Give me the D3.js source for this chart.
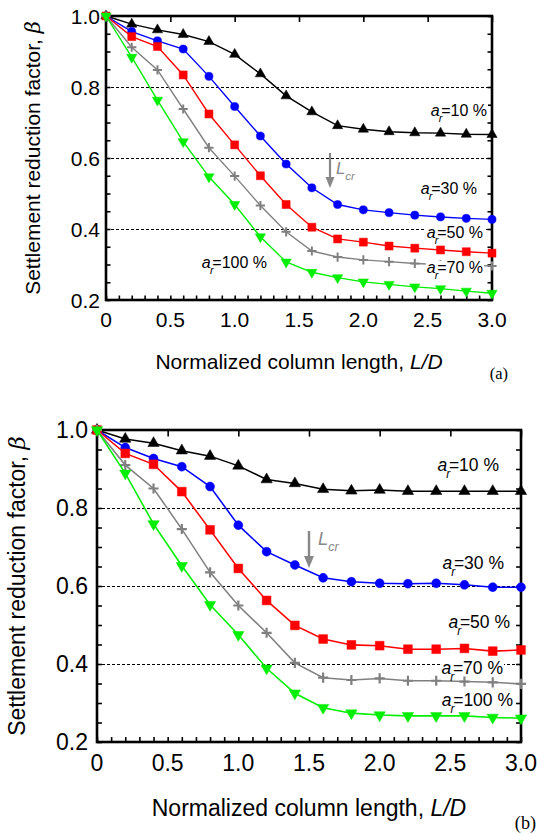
<!DOCTYPE html>
<html>
<head>
<meta charset="utf-8">
<script src="https://cdn.jsdelivr.net/npm/d3@7/dist/d3.min.js"></script>
<style>
  body { margin: 0; background: #fff; }
  svg { display: block; }
</style>
</head>
<body>
<svg id="fig" width="537" height="834"></svg>
<script>
// Normalized column length L/D (x values shared by both panels)
const lengthRatio = [0, 0.2, 0.4, 0.6, 0.8, 1.0, 1.2, 1.4, 1.6, 1.8, 2.0, 2.2, 2.4, 2.6, 2.8, 3.0];

// Area replacement ratios a_r (%)
const replacementRatios = ["10", "30", "50", "70", "100"];

// Panel (a): settlement reduction factor beta
const betaA10  = [1.0, 0.977, 0.961, 0.948, 0.928, 0.892, 0.837, 0.775, 0.730, 0.691, 0.681, 0.674, 0.671, 0.670, 0.667, 0.666];
const betaA30  = [1.0, 0.956, 0.930, 0.907, 0.830, 0.745, 0.662, 0.583, 0.516, 0.469, 0.454, 0.446, 0.439, 0.434, 0.430, 0.427];
const betaA50  = [1.0, 0.942, 0.914, 0.834, 0.724, 0.637, 0.550, 0.469, 0.405, 0.372, 0.363, 0.352, 0.346, 0.341, 0.336, 0.332];
const betaA70  = [1.0, 0.912, 0.848, 0.738, 0.629, 0.549, 0.466, 0.392, 0.338, 0.321, 0.313, 0.308, 0.303, 0.300, 0.297, 0.296];
const betaA100 = [1.0, 0.884, 0.763, 0.646, 0.547, 0.469, 0.378, 0.307, 0.278, 0.263, 0.251, 0.244, 0.237, 0.232, 0.225, 0.219];

// Panel (b): settlement reduction factor beta
const betaB10  = [1.0, 0.977, 0.966, 0.947, 0.933, 0.908, 0.873, 0.863, 0.848, 0.844, 0.846, 0.843, 0.843, 0.843, 0.843, 0.843];
const betaB30  = [1.0, 0.955, 0.927, 0.906, 0.855, 0.756, 0.688, 0.654, 0.621, 0.611, 0.607, 0.606, 0.607, 0.603, 0.597, 0.597];
const betaB50  = [1.0, 0.940, 0.912, 0.842, 0.744, 0.645, 0.563, 0.499, 0.464, 0.449, 0.447, 0.438, 0.438, 0.440, 0.433, 0.436];
const betaB70  = [1.0, 0.910, 0.850, 0.746, 0.635, 0.550, 0.480, 0.403, 0.365, 0.359, 0.363, 0.357, 0.357, 0.355, 0.353, 0.349];
const betaB100 = [1.0, 0.889, 0.759, 0.652, 0.552, 0.475, 0.389, 0.325, 0.288, 0.274, 0.269, 0.267, 0.267, 0.267, 0.263, 0.261];

// Axis ticks
const xTicks = [0, 0.5, 1.0, 1.5, 2.0, 2.5, 3.0];
const yTicks = [0.2, 0.4, 0.6, 0.8, 1.0];
const gridLevels = [0.4, 0.6, 0.8];

// Series styling
const seriesColors = ["#000000", "#0000ff", "#ff0000", "#808080", "#00ee00"];
const seriesMarkers = ["triUp", "circle", "square", "plus", "triDown"];

const FONT = "'Liberation Sans', Arial, Helvetica, sans-serif";

const panels = [
  {
    tag: "(a)", left: 106, top: 16, right: 492, bottom: 300, font: 21, labelFont: 16, k: 1,
    series: [betaA10, betaA30, betaA50, betaA70, betaA100],
    labels: [[487, 116], [477, 194], [483, 238], [483, 273], [267, 268]],
    arrow: { x: 330, y1: 153, y2: 188 }, lcr: [336, 174],
    tagPos: [508, 379], xTitleY: 369, yTitleX: 40, xTickY: 327, yTickX: 100
  },
  {
    tag: "(b)", left: 97, top: 430, right: 521, bottom: 742, font: 23, labelFont: 17.5, k: 1.1,
    series: [betaB10, betaB30, betaB50, betaB70, betaB100],
    labels: [[499, 471], [504, 569], [510, 628], [503, 674], [513, 706]],
    arrow: { x: 309, y1: 531, y2: 568 }, lcr: [318, 545],
    tagPos: [536, 829], xTitleY: 816, yTitleX: 25, xTickY: 771, yTickX: 88
  }
];

const svg = d3.select("#fig");

function markerPath(type, k) {
  if (type === "triUp" || type === "triDown") return d3.symbol(d3.symbolTriangle, 46 * k * k)();
  if (type === "circle") return d3.symbol(d3.symbolCircle, 52 * k * k)();
  if (type === "square") return d3.symbol(d3.symbolSquare, 64 * k * k)();
  const h = 4.6 * k;
  return `M${-h},0H${h}M0,${-h}V${h}`;
}

function drawPanel(p) {
  const g = svg.append("g");
  const x = d3.scaleLinear().domain([0, 3]).range([p.left, p.right]);
  const y = d3.scaleLinear().domain([0.2, 1.0]).range([p.bottom, p.top]);
  const w = p.right - p.left, h = p.bottom - p.top;

  // dotted reference lines
  g.selectAll(".grid").data(gridLevels).join("line")
    .attr("x1", p.left).attr("x2", p.right)
    .attr("y1", d => Math.round(y(d)) + 0.5).attr("y2", d => Math.round(y(d)) + 0.5)
    .attr("stroke", "#000").attr("stroke-width", 1)
    .attr("shape-rendering", "crispEdges")
    .attr("stroke-dasharray", "3,2");

  // inward ticks on all four sides
  const tickLen = 6 * p.k, minorLen = 4.5 * p.k;
  g.append("g").attr("transform", `translate(0,${p.bottom})`)
    .call(d3.axisTop(x).tickValues(d3.range(0, 3.0001, 0.1)).tickSize(minorLen).tickFormat(""));
  g.append("g").attr("transform", `translate(0,${p.top})`)
    .call(d3.axisBottom(x).tickValues(xTicks).tickSize(tickLen).tickFormat(""));
  const yMinor = d3.range(0.2, 1.0001, 0.05);
  g.append("g").attr("transform", `translate(${p.left},0)`)
    .call(d3.axisRight(y).tickValues(yMinor).tickSize(minorLen).tickFormat(""));
  g.append("g").attr("transform", `translate(${p.right},0)`)
    .call(d3.axisLeft(y).tickValues(yMinor).tickSize(minorLen).tickFormat(""));
  g.selectAll(".domain").remove();
  g.selectAll(".tick line").attr("stroke", "#000").attr("stroke-width", 1.6);

  // frame
  g.append("rect").attr("x", p.left).attr("y", p.top).attr("width", w).attr("height", h)
    .attr("fill", "none").attr("stroke", "#000").attr("stroke-width", 2.6);

  // tick labels
  g.selectAll(".xt").data(xTicks).join("text")
    .attr("x", d => x(d)).attr("y", p.xTickY)
    .attr("text-anchor", "middle").attr("font-family", FONT).attr("font-size", p.font)
    .text(d => d === 0 ? "0" : d.toFixed(1));
  g.selectAll(".yt").data(yTicks).join("text")
    .attr("x", p.yTickX).attr("y", d => y(d)).attr("dy", "0.36em")
    .attr("text-anchor", "end").attr("font-family", FONT).attr("font-size", p.font)
    .text(d => d.toFixed(1));

  // axis titles
  const xt = g.append("text").attr("x", (p.left + p.right) / 2).attr("y", p.xTitleY)
    .attr("text-anchor", "middle").attr("font-family", FONT).attr("font-size", p.font);
  xt.append("tspan").text("Normalized column length, ");
  xt.append("tspan").attr("font-style", "italic").text("L/D");

  const yt = g.append("text")
    .attr("transform", `translate(${p.yTitleX},${(p.top + p.bottom) / 2}) rotate(-90)`)
    .attr("text-anchor", "middle").attr("font-family", FONT).attr("font-size", p.font);
  yt.append("tspan").text("Settlement reduction factor, ");
  yt.append("tspan").attr("font-style", "italic").attr("font-family", "'DejaVu Serif', serif").text("β");

  // series lines and markers
  const line = d3.line().x((d, i) => x(lengthRatio[i])).y(d => y(d));
  p.series.forEach((vals, si) => {
    const color = seriesColors[si];
    g.append("path").datum(vals).attr("d", line)
      .attr("fill", "none").attr("stroke", color).attr("stroke-width", 1.4 * p.k);
    const type = seriesMarkers[si];
    const path = markerPath(type, p.k);
    g.selectAll(null).data(vals).join("path")
      .attr("transform", (d, i) => `translate(${x(lengthRatio[i])},${y(d)})${type === "triDown" ? " rotate(180)" : ""}`)
      .attr("d", path)
      .attr("fill", type === "plus" ? "none" : color)
      .attr("stroke", color)
      .attr("stroke-width", type === "plus" ? 2 * p.k : 0.5);
  });

  // series labels with a knock-out band behind the main glyphs
  replacementRatios.forEach((r, si) => {
    const [lx, ly] = p.labels[si];
    const fs = p.labelFont;
    const lg = g.append("g");
    const bg = lg.append("rect").attr("fill", "#fff");
    const t = lg.append("text").attr("x", lx).attr("y", ly)
      .attr("text-anchor", "end").attr("font-family", FONT).attr("font-size", fs);
    t.append("tspan").attr("font-style", "italic").text("a");
    t.append("tspan").attr("font-style", "italic").attr("font-size", fs * 0.68)
      .attr("dy", fs * 0.38).attr("dx", -fs * 0.05).text("r");
    t.append("tspan").attr("dy", -fs * 0.38).attr("dx", -fs * 0.08).text(`=${r} %`);
    const bb = t.node().getBBox();
    bg.attr("x", bb.x - 1).attr("y", ly - fs * 0.76).attr("width", bb.width + 2).attr("height", fs * 0.8);
  });

  // critical length arrow
  const a = p.arrow, head = 11 * p.k, hw = 4.5 * p.k;
  g.append("line").attr("x1", a.x).attr("x2", a.x).attr("y1", a.y1).attr("y2", a.y2 - head + 1)
    .attr("stroke", "#888").attr("stroke-width", 2.2 * p.k);
  g.append("path").attr("d", `M${a.x - hw},${a.y2 - head}L${a.x + hw},${a.y2 - head}L${a.x},${a.y2}Z`)
    .attr("fill", "#888");
  const lt = g.append("text").attr("x", p.lcr[0]).attr("y", p.lcr[1])
    .attr("font-family", FONT).attr("font-size", p.labelFont * 1.05).attr("fill", "#888")
    .attr("font-style", "italic");
  lt.append("tspan").text("L");
  lt.append("tspan").attr("font-size", p.labelFont * 0.72).attr("dy", p.labelFont * 0.35).text("cr");

  // panel tag
  g.append("text").attr("x", p.tagPos[0]).attr("y", p.tagPos[1]).attr("text-anchor", "end")
    .attr("font-family", "'Liberation Serif', 'Times New Roman', serif").attr("font-size", 16.5 * p.k)
    .text(p.tag);
}

panels.forEach(drawPanel);
</script>
</body>
</html>
